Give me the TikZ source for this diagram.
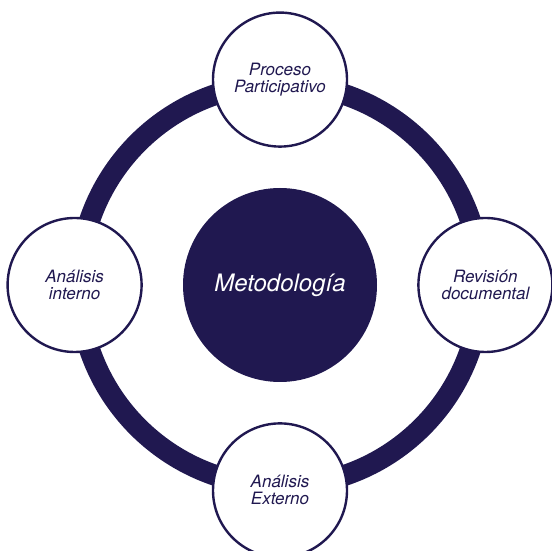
\documentclass[tikz,border=0pt]{standalone}
\usepackage{fontspec}
\setmainfont{TeX Gyre Heros}
\usepackage{tikz}
\usetikzlibrary{positioning}
\definecolor{navy}{RGB}{32,24,80}
\tikzstyle{hub} = [circle, fill = navy, minimum size = 194, inner sep = 0,
  text = white, font = \fontsize{24}{25}\selectfont\itshape]
\tikzstyle{stage} = [
  circle, draw = navy, line width = 2.4, fill = white,
  minimum size = 134, inner sep = 0,
  text = navy, align = center, font = \fontsize{17}{17}\selectfont\itshape
]
\tikzstyle{ring} = [draw = navy, line width = 21]

\begin{document}
\begin{tikzpicture}[x = 1pt, y = 1pt]
    \useasboundingbox (0, 0) rectangle (551, 551);
    \node [hub] (m) at (280, 266) {Metodología};
    \draw [ring] (m.center) circle (201);
    \node [stage, above = 40 of m] (s-1) {Proceso\\Participativo};
    \node [stage, right = 40 of m] (s-2) {Revisión\\documental};
    \node [stage, below = 40 of m] (s-3) {Análisis\\Externo};
    \node [stage, left = 40 of m] (s-4) {Análisis\\interno};
  \end{tikzpicture}
\end{document}
